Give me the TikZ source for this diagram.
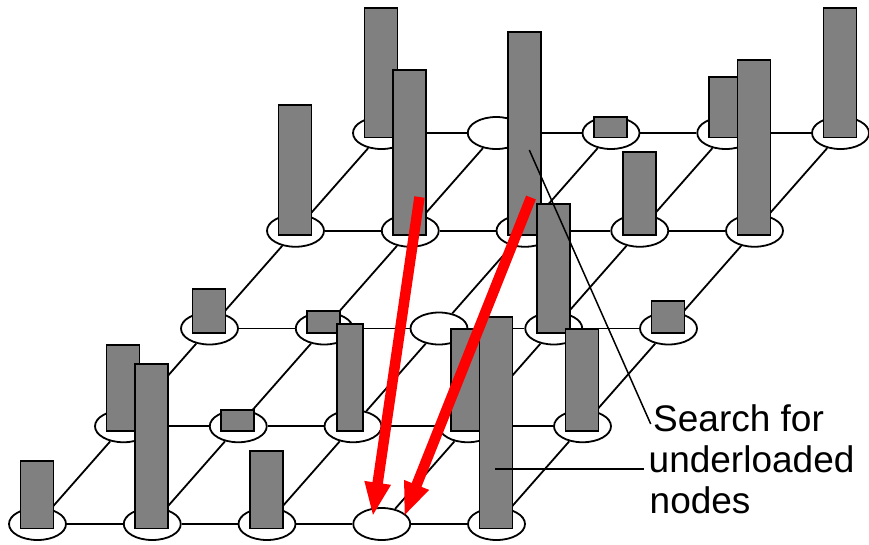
\documentclass[tikz,border=0pt]{standalone}
\usepackage{fontspec}
\setmainfont{Liberation Sans}
\usetikzlibrary{arrows.meta,shapes.geometric,calc}
\definecolor{bargray}{RGB}{128,128,128}
\definecolor{arrowred}{RGB}{255,0,0}
\tikzset{
  gridnode/.style={ellipse, draw=black, line width=1.8pt, fill=white, minimum width=57pt, minimum height=32pt, inner sep=0pt},
  gridedge/.style={draw=black, line width=1.8pt},
  barst/.style={draw=black, fill=bargray, line width=1.8pt},
  pointer/.style={draw=black, line width=1.5pt},
  redarrow/.style={draw=arrowred, line width=10.5pt, -{Triangle[length=34pt,width=24pt]}},
  label/.style={anchor=base west, inner sep=0pt, font=\fontsize{37}{41}\selectfont}
}
\begin{document}
\begin{tikzpicture}[x=1pt,y=-1pt]
\path[use as bounding box] (0,0) rectangle (869,544);
% grid nodes
\foreach \r in {0,...,4}{
  \foreach \c in {0,...,4}{
    \pgfmathsetmacro\xx{37.5+86*\r+114.75*\c}
    \pgfmathsetmacro\yy{524-97.75*\r}
    \node[gridnode] (n\r\c) at (\xx,\yy) {};
  }
}
% edges
\foreach \r in {0,...,4}{
  \foreach \c [evaluate=\c as \cn using int(\c+1)] in {0,...,3}{
    \draw[gridedge] (n\r\c) -- (n\r\cn);
  }
}
\foreach \r [evaluate=\r as \rn using int(\r+1)] in {0,...,3}{
  \foreach \c in {0,...,4}{
    \draw[gridedge] (n\r\c) -- (n\rn\c);
  }
}
% bars, back rows first: row/col/top
\foreach \r/\c/\t in {4/0/6.7, 4/2/116, 4/3/75.7, 4/4/6.7,
                      3/0/104, 3/1/69.3, 3/2/31, 3/3/150.7, 3/4/59.3,
                      2/0/287.7, 2/1/310, 2/3/203.3, 2/4/300,
                      1/0/344.3, 1/1/409, 1/3/328.3, 1/4/328.3}{
  \pgfmathsetmacro\xx{37.5+86*\r+114.75*\c}
  \pgfmathsetmacro\yy{524-97.75*\r}
  \draw[barst] (\xx-17,\t+1) rectangle (\xx+16,\yy+4.5);
}
% narrow bar on row 1, column 2
\draw[barst] (337,323.7) rectangle (363.3,430.7);
\foreach \r/\c/\t in {0/0/460, 0/1/362.7, 0/2/450, 0/4/316}{
  \pgfmathsetmacro\xx{37.5+86*\r+114.75*\c}
  \pgfmathsetmacro\yy{524-97.75*\r}
  \draw[barst] (\xx-17,\t+1) rectangle (\xx+16,\yy+4.5);
}
% pointers to the label
\coordinate (p1s) at (529.3,150);
\coordinate (p1e) at (650.7,424);
\coordinate (p2s) at (495.3,469);
\coordinate (p2e) at (644.3,469);
\draw[pointer] (p1s) -- (p1e);
\draw[pointer] (p2s) -- (p2e);
% red arrows
\coordinate (a1s) at (419.5,197);
\coordinate (a2s) at (531,197.5);
\coordinate (a1e) at ($(n03)+(-9,-7.5)$);
\coordinate (a2e) at ($(n03)+(22.3,-7.5)$);
\draw[redarrow] (a1s) -- (a1e);
\draw[redarrow] (a2s) -- (a2e);
% label
\node[label] (t1) at (653,431.7) {Search for};
\node[label] (t2) at (648.5,472.5) {underloaded};
\node[label] (t3) at (649.5,513.5) {nodes};
\end{tikzpicture}
\end{document}
